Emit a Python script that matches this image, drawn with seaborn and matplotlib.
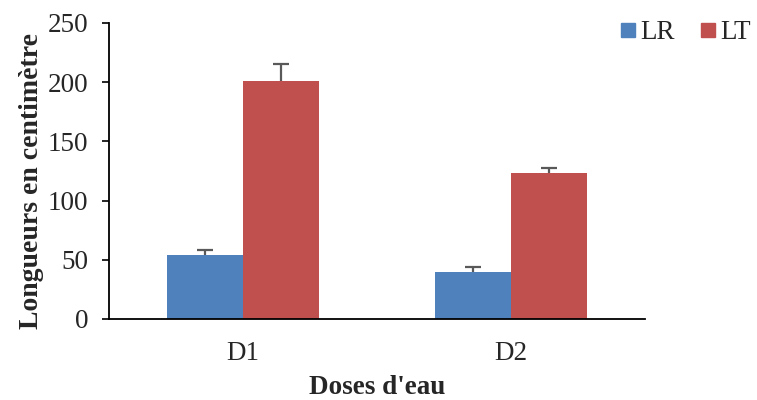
import matplotlib
matplotlib.use("Agg")
import matplotlib.pyplot as plt
import seaborn as sns
import pandas as pd
import numpy as np

categories = ["D1", "D2"]
series = ["LR", "LT"]
lr_values = [54, 40]
lt_values = [201, 123.5]
lr_err = [4, 3.5]
lt_err = [14, 4]
colors = ["#4F81BD", "#C0504D"]
yticks = [0, 50, 100, 150, 200, 250]

sns.set_style("white")
plt.rcParams["font.family"] = ["Liberation Serif", "DejaVu Serif"]

df = pd.DataFrame({
    "dose": categories * 2,
    "serie": [series[0]] * 2 + [series[1]] * 2,
    "val": lr_values + lt_values,
    "err": lr_err + lt_err,
})

fig = plt.figure(figsize=(7.57, 4.0), dpi=100)
ax = fig.add_axes([0.144, 0.2025, 0.708, 0.74])
sns.barplot(data=df, x="dose", y="val", hue="serie", palette=colors,
            width=0.57, gap=0, errorbar=None, ax=ax, saturation=1,
            edgecolor="none", linewidth=0)

# error bars at bar centres, drawn beneath the bars so only the upper half shows
for container, errs in zip(ax.containers, [lr_err, lt_err]):
    xs = [p.get_x() + p.get_width() / 2 for p in container.patches]
    hs = [p.get_height() for p in container.patches]
    ax.errorbar(xs, hs, yerr=errs, fmt="none", zorder=0.5,
                ecolor="#595959", elinewidth=1.6, capsize=5.5, capthick=1.6)

ax.set_xlim(-0.5, 1.5)
ax.set_ylim(0, 250)
ax.set_yticks(yticks)
ax.set_yticklabels([str(t) for t in yticks])
ax.tick_params(axis="y", which="both", left=True, length=5, width=1.2,
               color="black", labelsize=19.5, pad=10)
ax.tick_params(axis="x", bottom=False, labelsize=19.5, pad=12)
for s in ["top", "right"]:
    ax.spines[s].set_visible(False)
for s in ["left", "bottom"]:
    ax.spines[s].set_color("black")
    ax.spines[s].set_linewidth(1.3)

ax.set_xlabel("Doses d'eau", fontsize=19.5, fontweight="bold", labelpad=7)
ax.set_ylabel("Longueurs en centimètre", fontsize=20, fontweight="bold")
ax.yaxis.set_label_coords(-0.122, 0.465)

ax.legend_.remove()
handles = [plt.Line2D([], [], marker="s", linestyle="none", markersize=10,
                      markerfacecolor=c, markeredgecolor=c) for c in colors]
fig.legend(handles, series, loc="center left", bbox_to_anchor=(0.815, 0.918),
           ncol=2, frameon=False, fontsize=19.5, handletextpad=0.05,
           columnspacing=0.85, handlelength=0.8, borderaxespad=0, borderpad=0)

fig.savefig("out.png", dpi=100)
